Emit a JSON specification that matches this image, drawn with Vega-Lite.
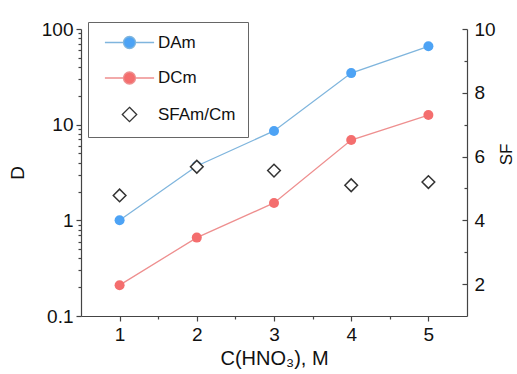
{
  "$schema": "https://vega.github.io/schema/vega-lite/v6.json",
  "width": 386,
  "height": 287,
  "autosize": {"type": "none"},
  "padding": {"left": 81, "top": 29, "right": 50, "bottom": 58},
  "background": "white",
  "config": {
    "font": "Liberation Sans",
    "view": {"stroke": null},
    "axis": {
      "grid": false,
      "domainColor": "#444",
      "tickColor": "#444",
      "labelColor": "#111",
      "titleColor": "#111",
      "labelFontSize": 19,
      "titleFontSize": 19,
      "titleFontWeight": "normal",
      "domainWidth": 1.2,
      "tickWidth": 1.2,
      "labelOverlap": false,
      "labelFlush": false
    }
  },
  "data": {
    "values": [
      {"c": 1, "series": "DAm", "value": 1.0},
      {"c": 2, "series": "DAm", "value": 3.7},
      {"c": 3, "series": "DAm", "value": 8.6},
      {"c": 4, "series": "DAm", "value": 34.6},
      {"c": 5, "series": "DAm", "value": 66},
      {"c": 1, "series": "DCm", "value": 0.21},
      {"c": 2, "series": "DCm", "value": 0.66},
      {"c": 3, "series": "DCm", "value": 1.52},
      {"c": 4, "series": "DCm", "value": 6.9},
      {"c": 5, "series": "DCm", "value": 12.6},
      {"c": 1, "series": "SF", "value": 4.78},
      {"c": 2, "series": "SF", "value": 5.68},
      {"c": 3, "series": "SF", "value": 5.56},
      {"c": 4, "series": "SF", "value": 5.1},
      {"c": 5, "series": "SF", "value": 5.2}
    ]
  },
  "encoding": {
    "x": {
      "field": "c",
      "type": "quantitative",
      "scale": {"domain": [0.5, 5.5], "nice": false, "zero": false},
      "axis": {
        "orient": "bottom",
        "values": [1, 1.5, 2, 2.5, 3, 3.5, 4, 4.5, 5],
        "labelExpr": "datum.value % 1 == 0 ? format(datum.value, 'd') : ''",
        "tickSize": {"expr": "datum.value % 1 == 0 ? 5 : 3"},
        "labelPadding": 4,
        "title": "C(HNO₃), M",
        "titleFontSize": 20,
        "titlePadding": 4
      }
    }
  },
  "layer": [
    {
      "encoding": {
        "y": {
          "field": "value",
          "type": "quantitative",
          "scale": {"type": "log", "domain": [0.1, 100], "nice": false},
          "axis": {
            "orient": "left",
            "values": [0.1, 0.2, 0.3, 0.4, 0.5, 0.6, 0.7, 0.8, 0.9, 1, 2, 3, 4, 5, 6, 7, 8, 9, 10, 20, 30, 40, 50, 60, 70, 80, 90, 100],
            "labelExpr": "indexof([0.1, 1, 10, 100], datum.value) >= 0 ? format(datum.value, '~g') : ''",
            "tickSize": {"expr": "indexof([0.1, 1, 10, 100], datum.value) >= 0 ? 5 : 3"},
            "labelPadding": 3,
            "title": "D",
            "titlePadding": 14
          }
        }
      },
      "layer": [
        {
          "transform": [{"filter": "datum.series == 'DAm'"}],
          "mark": {"type": "line", "color": "#7fb5dd", "strokeWidth": 1.3}
        },
        {
          "transform": [{"filter": "datum.series == 'DCm'"}],
          "mark": {"type": "line", "color": "#ee8f8f", "strokeWidth": 1.3}
        },
        {
          "transform": [{"filter": "datum.series == 'DAm'"}],
          "mark": {"type": "circle", "color": "#4da3f5", "size": 100, "opacity": 1}
        },
        {
          "transform": [{"filter": "datum.series == 'DCm'"}],
          "mark": {"type": "circle", "color": "#f46e6e", "size": 100, "opacity": 1}
        },
        {
          "transform": [{"filter": "false"}],
          "mark": {"type": "point", "filled": true},
          "encoding": {
            "shape": {
              "field": "series",
              "type": "nominal",
              "scale": {
                "domain": ["DAm", "DCm", "SF"],
                "range": [
                  "M-4.1,0L-1,0M1,0L4.1,0M1,0A1,1 0 1,1 -1,0A1,1 0 1,1 1,0Z",
                  "M-4.1,0L-1,0M1,0L4.1,0M1,0A1,1 0 1,1 -1,0A1,1 0 1,1 1,0Z",
                  "M0,-1.2L1.2,0L0,1.2L-1.2,0Z"
                ]
              },
              "legend": {
                "orient": "none",
                "legendX": 7,
                "legendY": -7,
                "title": null,
                "strokeColor": "#666",
                "fillColor": "white",
                "padding": 12,
                "labelFontSize": 17,
                "labelColor": "#111",
                "labelLimit": 300,
                "symbolSize": 144,
                "symbolStrokeWidth": 1.3,
                "symbolOpacity": 1,
                "rowPadding": 16.5,
                "symbolOffset": 21,
                "labelOffset": 20,
                "labelExpr": "datum.label == 'SF' ? 'SFAm/Cm' : datum.label"
              }
            },
            "fill": {
              "field": "series",
              "type": "nominal",
              "scale": {"domain": ["DAm", "DCm", "SF"], "range": ["#4da3f5", "#f46e6e", "#ffffff"]}
            },
            "stroke": {
              "field": "series",
              "type": "nominal",
              "scale": {"domain": ["DAm", "DCm", "SF"], "range": ["#7fb5dd", "#ee8f8f", "#333333"]}
            }
          }
        }
      ]
    },
    {
      "transform": [{"filter": "datum.series == 'SF'"}],
      "mark": {"type": "point", "shape": "diamond", "filled": false, "fill": "white", "stroke": "#333", "strokeWidth": 1.5, "size": 160, "opacity": 1},
      "encoding": {
        "y": {
          "field": "value",
          "type": "quantitative",
          "scale": {"domain": [1, 10], "nice": false, "zero": false},
          "axis": {
            "orient": "right",
            "values": [2, 3, 4, 5, 6, 7, 8, 9, 10],
            "labelExpr": "datum.value % 2 == 0 ? format(datum.value, 'd') : ''",
            "tickSize": {"expr": "datum.value % 2 == 0 ? -5 : -3"},
            "labelPadding": 12,
            "title": "SF",
            "titleFontSize": 17,
            "titleAngle": 270,
            "titleX": 39,
            "titleY": 125,
            "titleBaseline": "middle",
            "titleAlign": "center"
          }
        }
      }
    }
  ],
  "resolve": {"scale": {"y": "independent"}}
}
